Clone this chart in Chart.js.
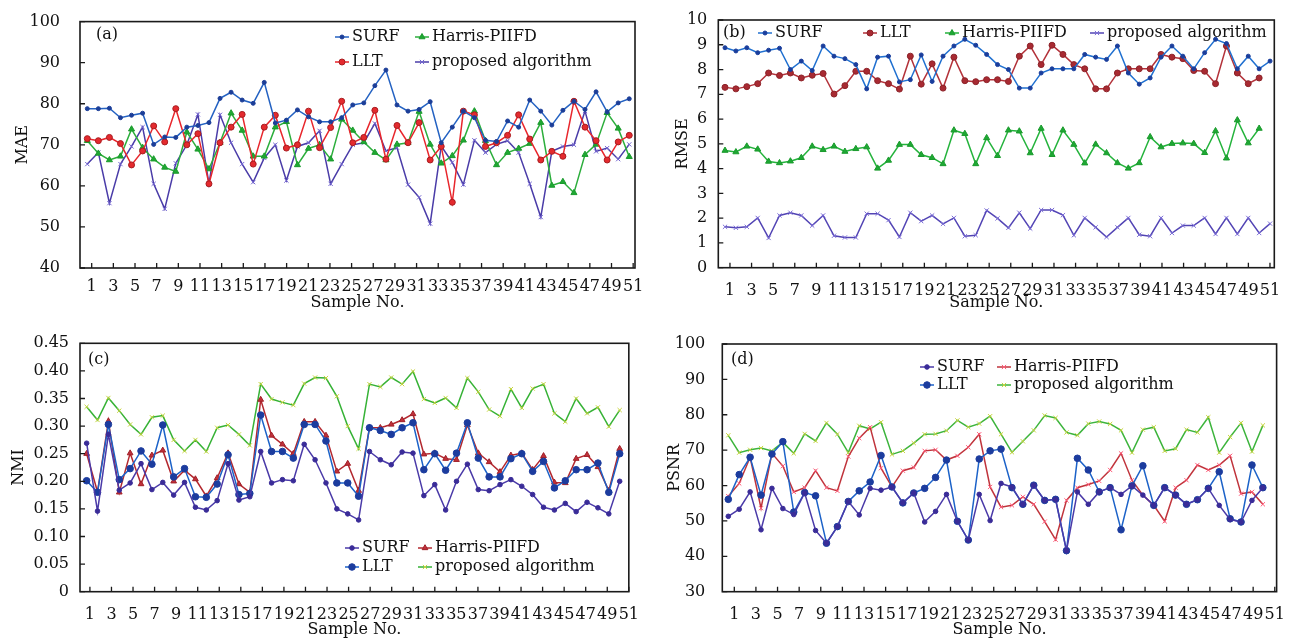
<!DOCTYPE html>
<html>
<head>
<meta charset="utf-8">
<script src="https://cdn.jsdelivr.net/npm/chart.js@4.4.1/dist/chart.umd.min.js"></script>
<style>
html, body { margin: 0; padding: 0; background: #fff; }
body { width: 1291px; height: 639px; position: relative; overflow: hidden; }
canvas { position: absolute; }
</style>
</head>
<body>
<canvas id="chartA" width="645" height="320" style="left:0;top:0"></canvas>
<canvas id="chartB" width="646" height="320" style="left:645px;top:0"></canvas>
<canvas id="chartC" width="645" height="319" style="left:0;top:320px"></canvas>
<canvas id="chartD" width="646" height="319" style="left:645px;top:320px"></canvas>
<script>
"use strict";

const sampleTicks = [1, 3, 5, 7, 9, 11, 13, 15, 17, 19, 21, 23, 25, 27, 29, 31, 33, 35, 37, 39, 41, 43, 45, 47, 49, 51];
const methodNames = ["SURF", "LLT", "Harris-PIIFD", "proposed algorithm"];

// (a) MAE
const maeSurf = [78.8, 78.8, 78.9, 76.6, 77.2, 77.7, 70.1, 71.9, 71.8, 74.3, 74.7, 75.4, 81.3, 82.8, 80.9, 80.1, 85.2, 75.3, 76.0, 78.5, 76.8, 75.6, 75.6, 76.6, 79.7, 80.2, 84.4, 88.2, 79.7, 78.2, 78.6, 80.5, 70.5, 74.3, 78.2, 76.6, 71.1, 70.8, 75.8, 74.3, 80.9, 78.2, 74.8, 78.4, 80.6, 78.6, 82.9, 78.0, 80.2, 81.2];
const maeLlt = [71.5, 71.0, 71.8, 70.3, 65.1, 68.5, 74.6, 70.7, 78.8, 70.0, 72.7, 60.5, 70.5, 74.3, 77.4, 65.3, 74.3, 77.2, 69.2, 70.0, 78.2, 69.3, 74.2, 80.6, 70.5, 71.8, 78.4, 66.5, 74.7, 70.5, 75.4, 66.3, 69.6, 56.0, 78.2, 77.3, 69.6, 70.5, 72.3, 77.3, 71.4, 66.3, 68.4, 67.2, 80.6, 74.3, 71.0, 66.3, 70.7, 72.3];
const maeHarris = [71.0, 67.9, 66.3, 67.2, 73.8, 69.3, 66.5, 64.5, 63.5, 73.1, 68.9, 64.1, 70.5, 77.7, 73.5, 67.2, 67.2, 74.3, 75.6, 65.1, 69.1, 70.0, 66.5, 76.2, 73.5, 70.7, 68.1, 66.3, 70.1, 70.5, 78.1, 70.1, 65.5, 67.3, 71.1, 78.2, 71.0, 65.1, 68.1, 69.1, 70.3, 75.4, 60.1, 61.0, 58.3, 67.6, 70.1, 77.8, 74.0, 67.1];
const maeProposed = [65.3, 68.1, 55.8, 65.3, 69.6, 74.3, 60.5, 54.4, 65.5, 70.0, 77.4, 60.5, 77.3, 70.5, 65.3, 60.9, 66.8, 70.0, 61.3, 69.6, 70.5, 73.4, 60.5, 65.3, 70.0, 70.5, 75.2, 68.5, 69.3, 60.3, 57.2, 50.8, 69.7, 65.7, 60.3, 71.1, 68.1, 70.1, 71.0, 68.1, 60.5, 52.4, 68.4, 69.6, 70.0, 78.2, 68.4, 69.2, 66.5, 70.1];

// (b) RMSE
const rmseSurf = [8.88, 8.75, 8.88, 8.68, 8.78, 8.86, 8.0, 8.34, 7.96, 8.95, 8.54, 8.44, 8.2, 7.22, 8.5, 8.54, 7.5, 7.59, 8.59, 7.52, 8.54, 8.95, 9.22, 8.98, 8.61, 8.2, 8.0, 7.25, 7.25, 7.86, 8.03, 8.03, 8.03, 8.61, 8.5, 8.41, 8.95, 7.86, 7.41, 7.66, 8.5, 8.95, 8.54, 8.03, 8.68, 9.22, 9.05, 8.03, 8.54, 8.03, 8.34];
const rmseLlt = [7.28, 7.22, 7.31, 7.43, 7.86, 7.76, 7.86, 7.66, 7.77, 7.84, 7.01, 7.35, 7.93, 7.93, 7.55, 7.43, 7.21, 8.54, 7.41, 8.23, 7.25, 8.5, 7.55, 7.51, 7.59, 7.59, 7.52, 8.54, 8.95, 8.2, 8.98, 8.61, 8.2, 8.03, 7.22, 7.22, 7.86, 8.03, 8.03, 8.03, 8.61, 8.5, 8.44, 7.96, 7.93, 7.43, 8.95, 7.86, 7.43, 7.66];
const rmseHarris = [4.73, 4.67, 4.9, 4.78, 4.29, 4.23, 4.3, 4.44, 4.9, 4.76, 4.9, 4.69, 4.8, 4.87, 4.01, 4.33, 4.97, 4.97, 4.56, 4.44, 4.19, 5.55, 5.41, 4.19, 5.24, 4.52, 5.55, 5.51, 4.63, 5.62, 4.56, 5.55, 4.97, 4.22, 4.98, 4.63, 4.23, 4.01, 4.23, 5.28, 4.87, 5.01, 5.03, 5.01, 4.64, 5.52, 4.42, 5.96, 5.03, 5.62];
const rmseProposed = [1.65, 1.61, 1.65, 2.01, 1.2, 2.11, 2.22, 2.11, 1.7, 2.11, 1.29, 1.22, 1.22, 2.18, 2.18, 1.92, 1.24, 2.22, 1.88, 2.11, 1.77, 2.01, 1.27, 1.31, 2.31, 1.99, 1.61, 2.22, 1.58, 2.33, 2.33, 2.12, 1.31, 2.01, 1.63, 1.24, 1.63, 2.01, 1.33, 1.27, 2.01, 1.4, 1.7, 1.7, 2.01, 1.36, 2.01, 1.36, 2.01, 1.4, 1.78];

// (c) NMI
const nmiSurf = [0.269, 0.146, 0.285, 0.184, 0.197, 0.232, 0.185, 0.198, 0.175, 0.198, 0.153, 0.148, 0.165, 0.232, 0.166, 0.172, 0.254, 0.197, 0.203, 0.201, 0.267, 0.239, 0.197, 0.150, 0.141, 0.130, 0.254, 0.239, 0.230, 0.253, 0.251, 0.174, 0.194, 0.148, 0.200, 0.231, 0.185, 0.183, 0.194, 0.203, 0.191, 0.176, 0.153, 0.148, 0.160, 0.145, 0.162, 0.152, 0.141, 0.200];
const nmiLlt = [0.201, 0.180, 0.303, 0.203, 0.223, 0.255, 0.231, 0.302, 0.208, 0.223, 0.172, 0.171, 0.195, 0.248, 0.176, 0.178, 0.320, 0.254, 0.254, 0.242, 0.303, 0.303, 0.273, 0.197, 0.197, 0.173, 0.297, 0.292, 0.285, 0.297, 0.306, 0.221, 0.250, 0.220, 0.251, 0.306, 0.242, 0.208, 0.208, 0.241, 0.250, 0.218, 0.236, 0.188, 0.201, 0.221, 0.221, 0.233, 0.180, 0.250];
const nmiHarris = [0.250, 0.181, 0.309, 0.180, 0.251, 0.195, 0.247, 0.256, 0.200, 0.220, 0.204, 0.173, 0.206, 0.251, 0.195, 0.180, 0.348, 0.283, 0.267, 0.250, 0.308, 0.308, 0.283, 0.218, 0.232, 0.183, 0.297, 0.297, 0.303, 0.311, 0.322, 0.249, 0.251, 0.241, 0.239, 0.302, 0.251, 0.235, 0.217, 0.247, 0.251, 0.221, 0.246, 0.198, 0.197, 0.241, 0.248, 0.226, 0.183, 0.259];
const nmiProposed = [0.335, 0.311, 0.351, 0.328, 0.303, 0.285, 0.316, 0.319, 0.275, 0.255, 0.275, 0.254, 0.297, 0.302, 0.285, 0.265, 0.376, 0.349, 0.343, 0.338, 0.377, 0.388, 0.387, 0.354, 0.300, 0.259, 0.376, 0.371, 0.388, 0.376, 0.399, 0.349, 0.342, 0.351, 0.333, 0.387, 0.362, 0.330, 0.318, 0.367, 0.333, 0.368, 0.376, 0.323, 0.308, 0.350, 0.323, 0.334, 0.299, 0.329];

// (d) PSNR
const psnrSurf = [51.3, 53.3, 58.2, 47.5, 59.2, 53.5, 51.8, 57.9, 47.3, 43.7, 48.4, 55.5, 51.7, 59.2, 58.7, 59.6, 55.1, 57.9, 49.7, 52.7, 57.5, 49.9, 44.6, 57.5, 50.1, 60.6, 59.6, 54.7, 60.1, 55.8, 56.1, 41.6, 58.2, 54.7, 58.2, 59.4, 57.5, 59.9, 57.3, 54.4, 59.4, 57.3, 54.7, 56.0, 59.2, 54.4, 50.4, 49.7, 55.8, 59.4];
const psnrLlt = [56.1, 63.1, 68.0, 57.3, 68.9, 72.4, 52.5, 58.0, 57.1, 43.7, 48.4, 55.5, 58.5, 61.0, 68.5, 59.6, 55.1, 57.9, 59.2, 62.3, 67.2, 49.9, 44.6, 67.5, 69.8, 70.3, 59.4, 54.7, 60.1, 55.8, 56.1, 41.6, 67.7, 64.4, 58.2, 59.4, 47.5, 59.9, 65.6, 54.4, 59.4, 57.3, 54.7, 56.0, 59.2, 63.9, 50.6, 49.7, 65.8, 59.4];
const psnrHarris = [57.0, 60.6, 68.0, 53.6, 69.1, 65.5, 58.2, 59.4, 64.2, 59.4, 58.5, 68.2, 73.4, 76.5, 64.9, 59.6, 64.2, 65.1, 69.8, 70.1, 67.2, 68.4, 70.8, 74.5, 59.6, 53.9, 54.4, 56.8, 54.7, 49.8, 44.7, 55.8, 59.4, 60.3, 61.3, 64.4, 69.1, 61.5, 57.3, 54.4, 49.9, 59.4, 61.5, 65.8, 64.4, 65.8, 68.4, 57.7, 58.2, 54.7];
const psnrProposed = [74.2, 69.3, 70.1, 70.6, 69.8, 72.2, 69.1, 74.6, 72.6, 77.7, 74.5, 69.3, 76.9, 76.0, 77.9, 68.8, 69.8, 72.0, 74.5, 74.6, 75.5, 78.4, 76.5, 77.5, 79.6, 74.5, 69.4, 72.5, 75.6, 79.8, 79.1, 75.0, 74.2, 77.5, 78.1, 77.4, 75.6, 69.3, 75.8, 76.5, 69.8, 70.4, 75.8, 75.0, 79.3, 69.3, 73.7, 77.7, 69.6, 77.0];

const FONT = "'DejaVu Serif', 'Liberation Serif', serif";
Chart.defaults.font.family = FONT;
Chart.defaults.font.size = 16;
Chart.defaults.color = "#111";

function toPoints(values) {
	return values.map((v, i) => ({ x: i + 1, y: v }));
}

function markerAt(ctx, s, x, y) {
	ctx.fillStyle = s.fill;
	ctx.strokeStyle = s.edge;
	ctx.lineWidth = 1;
	if (Chart.helpers && Chart.helpers.drawPoint) {
		Chart.helpers.drawPoint(ctx, { pointStyle: s.style, radius: s.radius, borderWidth: 1, rotation: 0 }, x, y);
	} else {
		ctx.beginPath();
		ctx.arc(x, y, s.radius, 0, Math.PI * 2);
		ctx.fill();
	}
}

function makePanel(canvasId, p) {
	const decorations = {
		id: "decorations",
		afterDraw(chart) {
			const { ctx, chartArea: area, scales } = chart;
			ctx.save();
			ctx.strokeStyle = "#1a1a1a";
			ctx.lineWidth = 1.3;
			ctx.beginPath();
			scales.y.ticks.forEach((t) => {
				const py = scales.y.getPixelForValue(t.value);
				ctx.moveTo(area.left, py);
				ctx.lineTo(area.left + 5, py);
			});
			scales.xt.ticks.forEach((t) => {
				const px = scales.xt.getPixelForValue(t.value);
				ctx.moveTo(px, area.bottom);
				ctx.lineTo(px, area.bottom - 5);
			});
			ctx.stroke();
			ctx.lineWidth = 1.6;
			ctx.strokeRect(area.left, area.top, area.right - area.left, area.bottom - area.top);

			ctx.font = "16px " + FONT;
			ctx.textBaseline = "middle";
			ctx.textAlign = "left";
			ctx.fillStyle = "#111";
			ctx.fillText(p.tag, p.tagPos[0], p.tagPos[1]);

			p.series.forEach((s, i) => {
				const [lx, ly] = p.legendPos[i];
				ctx.strokeStyle = s.color;
				ctx.lineWidth = 1.5;
				ctx.beginPath();
				ctx.moveTo(lx, ly);
				ctx.lineTo(lx + 14, ly);
				ctx.stroke();
				markerAt(ctx, s, lx + 7, ly);
				ctx.fillStyle = "#111";
				ctx.fillText(s.label, lx + 17, ly);
			});
			ctx.restore();
		},
	};

	const datasets = p.series.map((s) => ({
		label: s.label,
		data: toPoints(s.values),
		borderColor: s.color,
		borderWidth: 1.5,
		pointStyle: s.style,
		pointRadius: s.radius,
		pointBackgroundColor: s.fill,
		pointBorderColor: s.edge,
		pointBorderWidth: 1,
		tension: 0,
		fill: false,
	}));

	new Chart(document.getElementById(canvasId), {
		type: "line",
		data: { datasets },
		options: {
			responsive: false,
			animation: false,
			events: [],
			layout: { padding: { top: p.padTop, right: p.padRight, left: 0, bottom: 0 } },
			plugins: { legend: { display: false }, tooltip: { enabled: false } },
			scales: {
				x: { type: "linear", display: false, min: p.dataRange[0], max: p.dataRange[1] },
				xt: {
					type: "linear",
					position: "bottom",
					min: p.tickRange[0],
					max: p.tickRange[1],
					afterBuildTicks: (scale) => {
						scale.ticks = sampleTicks.map((v) => ({ value: v }));
					},
					afterFit: (scale) => {
						scale.height = p.xHeight;
					},
					ticks: { autoSkip: false, maxRotation: 0, padding: p.xTickPad, font: { size: 16 } },
					grid: { display: false },
					border: { display: false },
					title: { display: true, text: "Sample No.", font: { size: 16 }, padding: { top: 0, bottom: p.xTitlePad } },
				},
				y: {
					type: "linear",
					min: p.yMin,
					max: p.yMax,
					afterFit: (scale) => {
						scale.width = p.yWidth;
					},
					ticks: { stepSize: p.yStep, padding: p.yTickPad, callback: p.yFormat, font: { size: 16 } },
					grid: { display: false },
					border: { display: false },
					title: { display: true, text: p.yTitle, font: { size: 16 }, padding: { top: p.yTitlePad, bottom: 0 } },
				},
			},
		},
		plugins: [decorations],
	});
}

makePanel("chartA", {
	tag: "(a)",
	tagPos: [96, 35],
	yTitle: "MAE",
	yMin: 40, yMax: 100, yStep: 10,
	yFormat: (v) => String(v),
	dataRange: [0.34, 50.52],
	tickRange: [-0.08, 51.17],
	padTop: 20, padRight: 10, yWidth: 80, xHeight: 52,
	xTickPad: 1.5, yTickPad: 12, yTitlePad: 13, xTitlePad: 8,
	legendPos: [[335, 37], [335, 62], [415, 37], [415, 62]],
	series: [
		{ label: methodNames[0], values: maeSurf, color: "#2462c2", style: "circle", radius: 2, fill: "#1c3e98", edge: "#1c3e98" },
		{ label: methodNames[1], values: maeLlt, color: "#e8262c", style: "circle", radius: 3, fill: "#e42a2e", edge: "#a81c20" },
		{ label: methodNames[2], values: maeHarris, color: "#2cae3c", style: "triangle", radius: 3.5, fill: "#1fa832", edge: "#1a9a2c" },
		{ label: methodNames[3], values: maeProposed, color: "#4a3ca8", style: "crossRot", radius: 3, fill: "#6a5cc8", edge: "#7062d0" },
	],
});

makePanel("chartB", {
	tag: "(b)",
	tagPos: [78, 33],
	yTitle: "RMSE",
	yMin: 0, yMax: 10, yStep: 1,
	yFormat: (v) => String(v),
	dataRange: [0.385, 51.39],
	tickRange: [-0.08, 51.4],
	padTop: 20, padRight: 16.7, yWidth: 73.3, xHeight: 52.3,
	xTickPad: 6, yTickPad: 3, yTitlePad: 28, xTitlePad: 8,
	legendPos: [[113, 33], [218, 33], [300, 33], [445, 33]],
	series: [
		{ label: methodNames[0], values: rmseSurf, color: "#2070d0", style: "circle", radius: 2, fill: "#1a3e9c", edge: "#1a3e9c" },
		{ label: methodNames[1], values: rmseLlt, color: "#b3323a", style: "circle", radius: 3, fill: "#a82a32", edge: "#8c2228" },
		{ label: methodNames[2], values: rmseHarris, color: "#24b33c", style: "triangle", radius: 3.5, fill: "#1ea834", edge: "#1a9a2c" },
		{ label: methodNames[3], values: rmseProposed, color: "#5244b4", style: "crossRot", radius: 3, fill: "#7466d0", edge: "#7a6cd6" },
	],
});

makePanel("chartC", {
	tag: "(c)",
	tagPos: [88, 40],
	yTitle: "NMI",
	yMin: 0, yMax: 0.45, yStep: 0.05,
	yFormat: (v) => (v === 0 ? "0" : Number(v).toFixed(2)),
	dataRange: [0.39, 50.84],
	tickRange: [0.08, 51.0],
	padTop: 23.3, padRight: 10, yWidth: 80, xHeight: 47.3,
	xTickPad: 6, yTickPad: 3, yTitlePad: 9, xTitlePad: 0,
	legendPos: [[345, 228], [345, 247], [418, 228], [418, 247]],
	series: [
		{ label: methodNames[0], values: nmiSurf, color: "#4a3aa8", style: "circle", radius: 2.3, fill: "#3a2c98", edge: "#3a2c98" },
		{ label: methodNames[1], values: nmiLlt, color: "#1c62c8", style: "circle", radius: 3.3, fill: "#1c3c9e", edge: "#1c3c9e" },
		{ label: methodNames[2], values: nmiHarris, color: "#b3282f", style: "triangle", radius: 3.3, fill: "#c0303a", edge: "#a02028" },
		{ label: methodNames[3], values: nmiProposed, color: "#36b236", style: "crossRot", radius: 3, fill: "#c8d43c", edge: "#c8d43c" },
	],
});

makePanel("chartD", {
	tag: "(d)",
	tagPos: [86, 40],
	yTitle: "PSNR",
	yMin: 30, yMax: 100, yStep: 10,
	yFormat: (v) => String(v),
	dataRange: [0.45, 51.26],
	tickRange: [-0.11, 51.17],
	padTop: 24, padRight: 13.3, yWidth: 77.3, xHeight: 47.3,
	xTickPad: 6, yTickPad: 9, yTitlePad: 20, xTitlePad: 0,
	legendPos: [[275, 47], [275, 65], [352, 47], [352, 65]],
	series: [
		{ label: methodNames[0], values: psnrSurf, color: "#4a3aa8", style: "circle", radius: 2.3, fill: "#3a2c98", edge: "#3a2c98" },
		{ label: methodNames[1], values: psnrLlt, color: "#1c62c8", style: "circle", radius: 3.3, fill: "#1c3c9e", edge: "#1c3c9e" },
		{ label: methodNames[2], values: psnrHarris, color: "#c0343c", style: "crossRot", radius: 3, fill: "#ff5a78", edge: "#ff5a78" },
		{ label: methodNames[3], values: psnrProposed, color: "#3cb43c", style: "crossRot", radius: 3, fill: "#c8d43c", edge: "#c8d43c" },
	],
});
</script>
</body>
</html>
